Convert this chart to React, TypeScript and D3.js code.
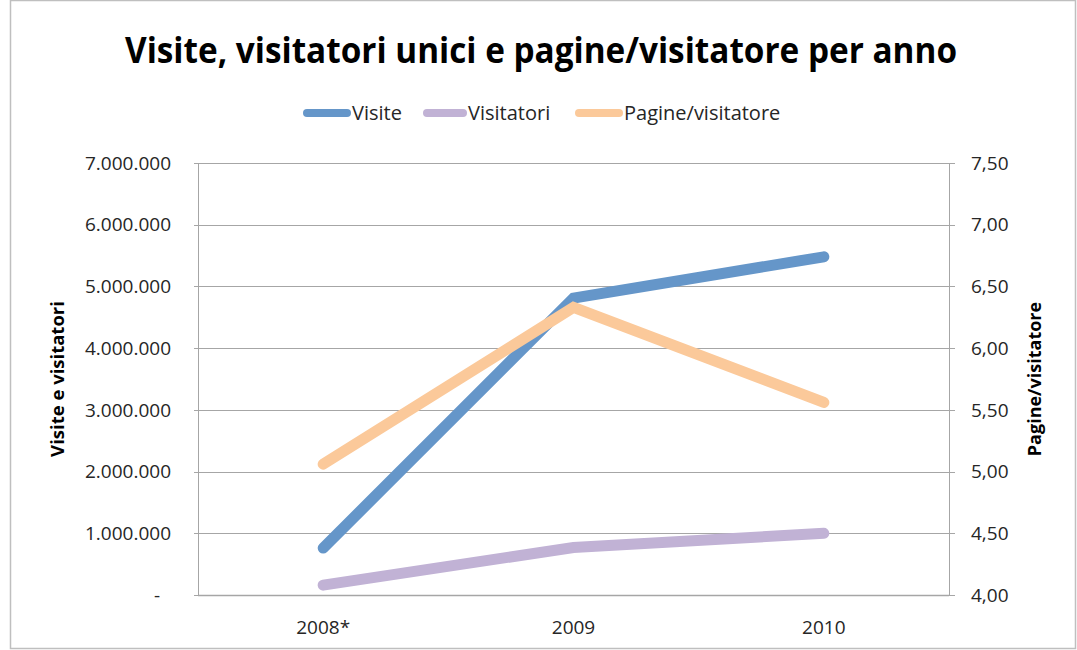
import React, { useRef, useEffect } from 'react';
import * as d3 from 'd3';

const CATEGORIES = ['2008*', '2009', '2010'];
const VISITE = [760000, 4810000, 5480000];
const VISITATORI = [160000, 770000, 1000000];
const PAGINE = [5.06, 6.33, 5.56];

const LEFT_TICKS = [0, 1000000, 2000000, 3000000, 4000000, 5000000, 6000000, 7000000];
const RIGHT_TICKS = [4, 4.5, 5, 5.5, 6, 6.5, 7, 7.5];

const SERIES = [
  { label: 'Visite', values: VISITE, color: '#6596c9', axis: 'left' },
  { label: 'Visitatori', values: VISITATORI, color: '#c1b2d5', axis: 'left' },
  { label: 'Pagine/visitatore', values: PAGINE, color: '#fbc99a', axis: 'right' },
];

const FONT = "'Open Sans', 'Liberation Sans', sans-serif";

export default function App() {
  const ref = useRef<SVGSVGElement | null>(null);

  useEffect(() => {
    document.body.style.margin = '0';
    const svg = d3.select(ref.current);
    svg.selectAll('*').remove();

    const W = 1077, H = 650;
    const plot = { left: 198, right: 949, top: 163, bottom: 595 };

    const it = d3.formatLocale({ decimal: ',', thousands: '.', grouping: [3], currency: ['€', ''] });
    const fmtLeft = it.format(',.0f');
    const fmtRight = it.format('.2f');

    const x = d3.scaleBand<string>().domain(CATEGORIES).range([plot.left, plot.right]);
    const yL = d3.scaleLinear().domain([0, 7000000]).range([plot.bottom, plot.top]);
    const yR = d3.scaleLinear().domain([4, 7.5]).range([plot.bottom, plot.top]);

    // background + outer border
    svg.append('rect')
      .attr('x', 10.5).attr('y', 0.5)
      .attr('width', W - 12).attr('height', H - 2)
      .attr('fill', '#fff')
      .attr('stroke', '#bfbfbf')
      .attr('stroke-width', 1.5);

    // title
    svg.append('text')
      .attr('x', 541).attr('y', 63)
      .attr('text-anchor', 'middle')
      .attr('font-family', FONT)
      .attr('font-weight', 700)
      .attr('font-size', '35px')
      .attr('textLength', 832)
      .attr('lengthAdjust', 'spacingAndGlyphs')
      .attr('fill', '#000')
      .text('Visite, visitatori unici e pagine/visitatore per anno');

    // gridlines
    LEFT_TICKS.forEach(t => {
      svg.append('line')
        .attr('x1', plot.left - 4).attr('x2', plot.right + 6)
        .attr('y1', Math.round(yL(t)) + 0.5).attr('y2', Math.round(yL(t)) + 0.5)
        .attr('stroke', '#a6a6a6').attr('stroke-width', 1);
    });

    // axis lines
    svg.append('line')
      .attr('x1', plot.left + 0.5).attr('x2', plot.left + 0.5)
      .attr('y1', plot.top).attr('y2', plot.bottom + 1)
      .attr('stroke', '#a6a6a6');
    svg.append('line')
      .attr('x1', plot.right + 0.5).attr('x2', plot.right + 0.5)
      .attr('y1', plot.top).attr('y2', plot.bottom + 1)
      .attr('stroke', '#a6a6a6');
    svg.append('line')
      .attr('x1', plot.left).attr('x2', plot.right)
      .attr('y1', plot.bottom + 0.5).attr('y2', plot.bottom + 0.5)
      .attr('stroke', '#a6a6a6').attr('stroke-width', 1.5);

    // left tick labels
    LEFT_TICKS.forEach(t => {
      svg.append('text')
        .attr('x', t === 0 ? 160 : 171)
        .attr('y', yL(t))
        .attr('dy', '0.35em')
        .attr('text-anchor', 'end')
        .attr('font-family', FONT)
        .attr('font-size', '19px')
        .attr('fill', '#262626')
        .text(t === 0 ? '-' : fmtLeft(t));
    });

    // right tick labels
    RIGHT_TICKS.forEach(t => {
      svg.append('text')
        .attr('x', 971)
        .attr('y', yR(t))
        .attr('dy', '0.35em')
        .attr('font-family', FONT)
        .attr('font-size', '19px')
        .attr('fill', '#262626')
        .text(fmtRight(t));
    });

    // category labels
    CATEGORIES.forEach(c => {
      svg.append('text')
        .attr('x', x(c)! + x.bandwidth() / 2)
        .attr('y', 634)
        .attr('text-anchor', 'middle')
        .attr('font-family', FONT)
        .attr('font-size', '19px')
        .attr('fill', '#262626')
        .text(c);
    });

    // axis titles
    svg.append('text')
      .attr('transform', `translate(64,${(plot.top + plot.bottom) / 2}) rotate(-90)`)
      .attr('text-anchor', 'middle')
      .attr('font-family', FONT)
      .attr('font-weight', 700)
      .attr('font-size', '18.5px')
      .attr('fill', '#000')
      .text('Visite e visitatori');
    svg.append('text')
      .attr('transform', `translate(1041,${(plot.top + plot.bottom) / 2}) rotate(-90)`)
      .attr('text-anchor', 'middle')
      .attr('font-family', FONT)
      .attr('font-weight', 700)
      .attr('font-size', '18px')
      .attr('fill', '#000')
      .text('Pagine/visitatore');

    // series lines
    SERIES.forEach(s => {
      const yScale = s.axis === 'left' ? yL : yR;
      const line = d3.line<number>()
        .x((_, i) => x(CATEGORIES[i])! + x.bandwidth() / 2)
        .y(d => yScale(d));
      svg.append('path')
        .datum(s.values)
        .attr('d', line)
        .attr('fill', 'none')
        .attr('stroke', s.color)
        .attr('stroke-width', 11)
        .attr('stroke-linecap', 'round')
        .attr('stroke-linejoin', 'miter');
    });

    // legend
    const legendItems = [
      { x1: 307, x2: 347, tx: 352 },
      { x1: 427, x2: 463, tx: 468 },
      { x1: 579, x2: 619, tx: 624 },
    ];
    SERIES.forEach((s, i) => {
      const li = legendItems[i];
      svg.append('line')
        .attr('x1', li.x1).attr('x2', li.x2)
        .attr('y1', 113).attr('y2', 113)
        .attr('stroke', s.color)
        .attr('stroke-width', 8)
        .attr('stroke-linecap', 'round');
      svg.append('text')
        .attr('x', li.tx).attr('y', 113)
        .attr('dy', '0.35em')
        .attr('font-family', FONT)
        .attr('font-size', '20px')
        .attr('fill', '#262626')
        .text(s.label);
    });
  }, []);

  return <svg ref={ref} width={1077} height={650} style={{ display: 'block' }} />;
}
